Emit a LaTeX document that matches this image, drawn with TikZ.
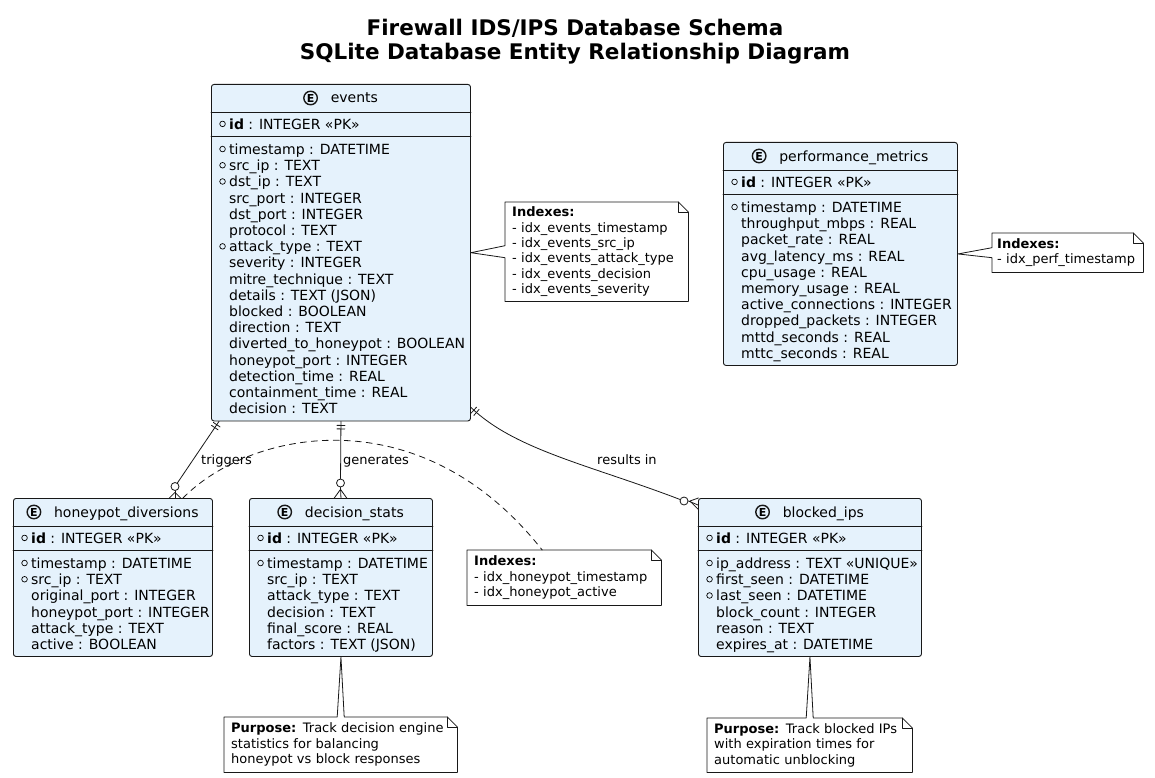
\documentclass[tikz,border=0pt]{standalone}
\usepackage{fontspec}
\setmainfont{DejaVu Sans}
\usetikzlibrary{decorations.markings}

\definecolor{entfill}{RGB}{229,242,252}
\definecolor{inkline}{RGB}{24,24,24}

\newcommand{\attrfont}{\fontsize{14}{16.22}\selectfont}
\newcommand{\notefont}{\fontsize{13}{15.3}\selectfont}
% small ring in front of mandatory columns
\newcommand{\mk}{\makebox[0pt][r]{\tikz[baseline=-5.3pt]\draw[line width=0.7pt] (0,0) circle (2.8pt);\hspace{3.5pt}}}

\tikzset{
  entbox/.style={draw=inkline, fill=entfill, line width=0.9pt, rounded corners=2.5pt, anchor=north west, inner sep=0pt},
  sepline/.style={draw=inkline, line width=0.9pt},
  attr/.style={font=\attrfont, align=left, anchor=north west, inner sep=0pt, execute at begin node={\rule{0pt}{12pt}}},
  ename/.style={font=\attrfont, anchor=base, inner sep=0pt},
  ecirc/.style={circle, draw=inkline, line width=1.4pt, minimum size=13.5pt, inner sep=0pt, font=\bfseries\fontsize{11}{11}\selectfont},
  notetxt/.style={font=\notefont, align=left, inner xsep=7pt, inner ysep=0pt, anchor=north west},
  notebox/.style={draw=inkline, line width=0.8pt},
  rel/.style={font=\notefont, anchor=base west, inner sep=0pt},
  conn/.style={draw=inkline, line width=0.8pt},
  zcirc/.style={circle, draw=inkline, fill=white, line width=0.8pt, minimum size=8pt, inner sep=0pt},
  bars/.style={postaction={decorate, decoration={markings,
      mark=at position 4pt with {\draw[line width=0.8pt] (0,-4pt) -- (0,4pt);},
      mark=at position 7.5pt with {\draw[line width=0.8pt] (0,-4pt) -- (0,4pt);}}}},
}

\begin{document}
\begin{tikzpicture}[x=1pt,y=-1pt,line cap=round,line join=round]
  \useasboundingbox (0,0) rectangle (1155,778);
  \fill[white] (0,0) rectangle (1155,778);

  \node[font=\bfseries\fontsize{21.5}{24}\selectfont, align=center] (title) at (575,42)
    {Firewall IDS/IPS Database Schema\\SQLite Database Entity Relationship Diagram};

  % events
  \node[entbox, minimum width=259pt, minimum height=336.5pt] (events) at (211,84) {};
  \node[ename] (events-n) at ([xshift=13.4pt,yshift=-19pt]events.north) {events};
  \node[ecirc] (events-e) at ([xshift=-20pt,yshift=5pt]events-n.base west) {E};
  \draw[sepline] ([yshift=-28pt]events.north west) -- ([yshift=-28pt]events.north east);
  \draw[sepline] ([yshift=-52.5pt]events.north west) -- ([yshift=-52.5pt]events.north east);
  \node[attr] (events-id) at ([xshift=18pt,yshift=-33pt]events.north west) {\mk\textbf{id} : INTEGER «PK»};
  \node[attr] (events-b) at ([xshift=18pt,yshift=-59.5pt]events.north west) {\mk timestamp : DATETIME\\
    \mk src\_ip : TEXT\\ \mk dst\_ip : TEXT\\ src\_port : INTEGER\\ dst\_port : INTEGER\\
    protocol : TEXT\\ \mk attack\_type : TEXT\\ severity : INTEGER\\ mitre\_technique : TEXT\\
    details : TEXT (JSON)\\ blocked : BOOLEAN\\ direction : TEXT\\
    diverted\_to\_honeypot : BOOLEAN\\ honeypot\_port : INTEGER\\ detection\_time : REAL\\
    containment\_time : REAL\\ decision : TEXT};

  % performance_metrics
  \node[entbox, minimum width=234pt, minimum height=223pt] (pm) at (723,142) {};
  \node[ename] (pm-n) at ([xshift=13.4pt,yshift=-19pt]pm.north) {performance\_metrics};
  \node[ecirc] (pm-e) at ([xshift=-20pt,yshift=5pt]pm-n.base west) {E};
  \draw[sepline] ([yshift=-28pt]pm.north west) -- ([yshift=-28pt]pm.north east);
  \draw[sepline] ([yshift=-52.5pt]pm.north west) -- ([yshift=-52.5pt]pm.north east);
  \node[attr] (pm-id) at ([xshift=18pt,yshift=-33pt]pm.north west) {\mk\textbf{id} : INTEGER «PK»};
  \node[attr] (pm-b) at ([xshift=18pt,yshift=-59.5pt]pm.north west) {\mk timestamp : DATETIME\\
    throughput\_mbps : REAL\\ packet\_rate : REAL\\ avg\_latency\_ms : REAL\\ cpu\_usage : REAL\\
    memory\_usage : REAL\\ active\_connections : INTEGER\\ dropped\_packets : INTEGER\\
    mttd\_seconds : REAL\\ mttc\_seconds : REAL};

  % honeypot_diversions
  \node[entbox, minimum width=199pt, minimum height=158pt] (hd) at (13,498) {};
  \node[ename] (hd-n) at ([xshift=13.4pt,yshift=-19pt]hd.north) {honeypot\_diversions};
  \node[ecirc] (hd-e) at ([xshift=-20pt,yshift=5pt]hd-n.base west) {E};
  \draw[sepline] ([yshift=-28pt]hd.north west) -- ([yshift=-28pt]hd.north east);
  \draw[sepline] ([yshift=-52.5pt]hd.north west) -- ([yshift=-52.5pt]hd.north east);
  \node[attr] (hd-id) at ([xshift=18pt,yshift=-33pt]hd.north west) {\mk\textbf{id} : INTEGER «PK»};
  \node[attr] (hd-b) at ([xshift=18pt,yshift=-59.5pt]hd.north west) {\mk timestamp : DATETIME\\
    \mk src\_ip : TEXT\\ original\_port : INTEGER\\ honeypot\_port : INTEGER\\
    attack\_type : TEXT\\ active : BOOLEAN};

  % decision_stats
  \node[entbox, minimum width=183pt, minimum height=158pt] (ds) at (249,498) {};
  \node[ename] (ds-n) at ([xshift=13.4pt,yshift=-19pt]ds.north) {decision\_stats};
  \node[ecirc] (ds-e) at ([xshift=-20pt,yshift=5pt]ds-n.base west) {E};
  \draw[sepline] ([yshift=-28pt]ds.north west) -- ([yshift=-28pt]ds.north east);
  \draw[sepline] ([yshift=-52.5pt]ds.north west) -- ([yshift=-52.5pt]ds.north east);
  \node[attr] (ds-id) at ([xshift=18pt,yshift=-33pt]ds.north west) {\mk\textbf{id} : INTEGER «PK»};
  \node[attr] (ds-b) at ([xshift=18pt,yshift=-59.5pt]ds.north west) {\mk timestamp : DATETIME\\
    src\_ip : TEXT\\ attack\_type : TEXT\\ decision : TEXT\\ final\_score : REAL\\
    factors : TEXT (JSON)};

  % blocked_ips
  \node[entbox, minimum width=223pt, minimum height=158pt] (bl) at (698,498) {};
  \node[ename] (bl-n) at ([xshift=13.4pt,yshift=-19pt]bl.north) {blocked\_ips};
  \node[ecirc] (bl-e) at ([xshift=-20pt,yshift=5pt]bl-n.base west) {E};
  \draw[sepline] ([yshift=-28pt]bl.north west) -- ([yshift=-28pt]bl.north east);
  \draw[sepline] ([yshift=-52.5pt]bl.north west) -- ([yshift=-52.5pt]bl.north east);
  \node[attr] (bl-id) at ([xshift=18pt,yshift=-33pt]bl.north west) {\mk\textbf{id} : INTEGER «PK»};
  \node[attr] (bl-b) at ([xshift=18pt,yshift=-59.5pt]bl.north west) {\mk ip\_address : TEXT «UNIQUE»\\
    \mk first\_seen : DATETIME\\ \mk last\_seen : DATETIME\\ block\_count : INTEGER\\
    reason : TEXT\\ expires\_at : DATETIME};

  % relations
  \node[zcirc] (trg-o) at (175,486.5) {};
  \draw[conn, bars] ([xshift=8pt]events.south west) -- (trg-o);
  \draw[conn] (trg-o.south) -- (trg-o.south |- hd.north);
  \draw[conn] ([yshift=-1.5pt]trg-o.south) -- ++(-6,6) ([yshift=-1.5pt]trg-o.south) -- ++(6,6);
  \node[rel] (trg-l) at (201,464) {triggers};

  \node[zcirc] (gen-o) at (340.5,483) {};
  \draw[conn, bars] (events.south) -- (gen-o);
  \draw[conn] (gen-o.south) -- (ds.north);
  \draw[conn] ([yshift=-2pt]gen-o.south) -- ++(-6.5,9) ([yshift=-2pt]gen-o.south) -- ++(6.5,9);
  \node[rel] (gen-l) at (343,464) {generates};

  \node[zcirc] (res-o) at (684,501) {};
  \draw[conn, bars] ([yshift=14pt]events.south east) .. controls (515,450) and (590,465) .. (res-o);
  \draw[conn] (res-o.east) -- ([yshift=-7pt]bl.north west);
  \draw[conn] ([xshift=1.5pt]res-o.east) -- ++(8.5,-3) ([xshift=1.5pt]res-o.east) -- ++(8.5,8.5);
  \node[rel] (res-l) at (597,464) {results in};

  % notes
  \node[notetxt, text width=169pt, minimum height=99pt] (evnote) at (505,202)
    {\textbf{Indexes:}\\- idx\_events\_timestamp\\- idx\_events\_src\_ip\\- idx\_events\_attack\_type\\
     - idx\_events\_decision\\- idx\_events\_severity};
  \draw[notebox] (evnote.north west) -- ([xshift=-10pt]evnote.north east) -- ([yshift=-10pt]evnote.north east)
    -- (evnote.south east) -- (evnote.south west) -- ([yshift=-6pt]evnote.west) -- (events.east)
    -- ([yshift=6pt]evnote.west) -- cycle;
  \draw[notebox] ([xshift=-10pt]evnote.north east) -- ([xshift=-10pt,yshift=-10pt]evnote.north east) -- ([yshift=-10pt]evnote.north east);

  \node[notetxt, text width=141pt, minimum height=39pt, inner xsep=5pt] (pmnote) at (992,233)
    {\textbf{Indexes:}\\- idx\_perf\_timestamp};
  \draw[notebox] (pmnote.north west) -- ([xshift=-10pt]pmnote.north east) -- ([yshift=-10pt]pmnote.north east)
    -- (pmnote.south east) -- (pmnote.south west) -- ([yshift=-5pt]pmnote.west) -- (pm.east)
    -- ([yshift=5pt]pmnote.west) -- cycle;
  \draw[notebox] ([xshift=-10pt]pmnote.north east) -- ([xshift=-10pt,yshift=-10pt]pmnote.north east) -- ([yshift=-10pt]pmnote.north east);

  \node[notetxt, text width=180pt, minimum height=55pt] (hpnote) at (467,550)
    {\textbf{Indexes:}\\- idx\_honeypot\_timestamp\\- idx\_honeypot\_active};
  \draw[notebox] (hpnote.north west) -- ([xshift=-10pt]hpnote.north east) -- ([yshift=-10pt]hpnote.north east)
    -- (hpnote.south east) -- (hpnote.south west) -- cycle;
  \draw[notebox] ([xshift=-10pt]hpnote.north east) -- ([xshift=-10pt,yshift=-10pt]hpnote.north east) -- ([yshift=-10pt]hpnote.north east);
  \draw[conn, dash pattern=on 6pt off 5pt] ([xshift=170pt]hd.north west) .. controls (250,430) and (420,395) .. ([xshift=-22pt]hpnote.north);

  \node[notetxt, text width=219pt, minimum height=55pt] (dsnote) at (224,717)
    {\textbf{Purpose:} Track decision engine\\statistics for balancing\\honeypot vs block responses};
  \draw[notebox] (dsnote.north west) -- ([xshift=-3.5pt]dsnote.north) -- (ds.south) -- ([xshift=3.5pt]dsnote.north)
    -- ([xshift=-10pt]dsnote.north east) -- ([yshift=-10pt]dsnote.north east)
    -- (dsnote.south east) -- (dsnote.south west) -- cycle;
  \draw[notebox] ([xshift=-10pt]dsnote.north east) -- ([xshift=-10pt,yshift=-10pt]dsnote.north east) -- ([yshift=-10pt]dsnote.north east);

  \node[notetxt, text width=191pt, minimum height=54pt] (blnote) at (707,718)
    {\textbf{Purpose:} Track blocked IPs\\with expiration times for\\automatic unblocking};
  \draw[notebox] (blnote.north west) -- ([xshift=-3.5pt]blnote.north) -- (bl.south) -- ([xshift=3.5pt]blnote.north)
    -- ([xshift=-10pt]blnote.north east) -- ([yshift=-10pt]blnote.north east)
    -- (blnote.south east) -- (blnote.south west) -- cycle;
  \draw[notebox] ([xshift=-10pt]blnote.north east) -- ([xshift=-10pt,yshift=-10pt]blnote.north east) -- ([yshift=-10pt]blnote.north east);
\end{tikzpicture}
\end{document}
